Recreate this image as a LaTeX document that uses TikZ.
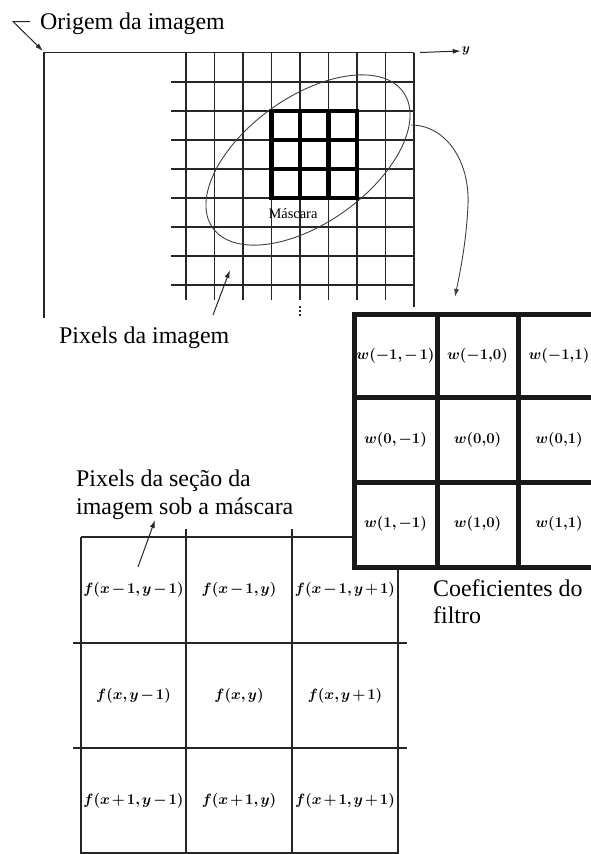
\RequirePackage{fix-cm}
\documentclass[tikz,border=0pt]{standalone}
\usepackage{fontspec}
\setmainfont{Liberation Serif}
\newfontfamily\capfont{Liberation Serif}
\usetikzlibrary{arrows.meta}
\begin{document}
\begin{tikzpicture}[x=1bp,y=-1bp,
  gridline/.style={line width=1.2bp, black!85},
  maskline/.style={line width=4.5bp, black},
  filterline/.style={line width=5bp, black!90},
  lbl/.style={font=\capfont\fontsize{24}{28}\selectfont, inner sep=0pt, anchor=base west},
  cell/.style={font=\fontsize{15}{18}\selectfont\boldmath, inner sep=0pt,
    execute at begin node={\medmuskip=2mu\relax\thinmuskip=2mu\relax}},
  arr/.style={-{Latex[length=8bp,width=5bp]}, line width=1bp, black!85}]
\useasboundingbox (0,0) rectangle (591,854);
\begin{scope}
\clip (0,0) rectangle (591,854);

% image frame and grid
\draw[gridline] (44,318) -- (44,52.5) -- (414,52.5);
\foreach \x in {186,214.5,243,271.5,300,328.5,357,385.5}
  \draw[gridline] (\x,53) -- (\x,300);
\draw[gridline] (414,53) -- (414,307);
\foreach \y in {82,111,140,169,198,227,256,285}
  \draw[gridline] (171,\y) -- (414,\y);
\draw[gridline, dash pattern=on 2bp off 2bp] (300,306) -- (300,318);

% mask
\draw[maskline] (271.5,111) rectangle (357,198);
\draw[maskline] (300,111) -- (300,198) (328.5,111) -- (328.5,198)
                (271.5,140) -- (357,140) (271.5,169) -- (357,169);
\node[font=\capfont\fontsize{14.5}{16}\selectfont, inner sep=0pt, anchor=base] (mascara) at (293,218) {Máscara};

% ellipse
\draw[line width=0.9bp, black!75, rotate around={35.5:(308,160)}]
  (308,160) ellipse [x radius=117bp, y radius=63bp];

% y axis
\coordinate (ystart) at (420,52.5);
\node[font=\fontsize{13}{15}\selectfont\boldmath, inner sep=1pt] (ylab) at (466,51) {$y$};
\draw[arr] (ystart) -- (ylab.west);

% origin label
\node[lbl] (origem) at (40,29) {Origem da imagem};
\coordinate (o1) at (30,21.5);
\coordinate (o2) at (13,21.5);
\coordinate (corner) at (43,51);
\draw[arr] (o1) -- (o2) -- (corner);

% pixels da imagem
\node[lbl] (pixels) at (59,343) {Pixels da imagem};
\coordinate (p1) at (213,315);
\coordinate (p2) at (230,270);
\draw[arr] (p1) -- (p2);

% bottom grid
\foreach \x in {186,292} \draw[gridline] (\x,529) -- (\x,854);
\draw[gridline] (81,537) -- (81,854);
\draw[gridline] (398,567) -- (398,854);
\draw[gridline] (81,537) -- (352,537);
\draw[gridline] (73,643) -- (407,643);
\draw[gridline] (73,748) -- (407,748);
\draw[gridline] (81,853) -- (398,853);

\node[cell] (f11) at (133.5,590) {$f(x-1,y-1)$};
\node[cell] (f12) at (239,590) {$f(x-1,y)$};
\node[cell] (f13) at (345,590) {$f(x-1,y+1)$};
\node[cell] (f21) at (133.5,695.5) {$f(x,y-1)$};
\node[cell] (f22) at (239,695.5) {$f(x,y)$};
\node[cell] (f23) at (345,695.5) {$f(x,y+1)$};
\node[cell] (f31) at (133.5,801) {$f(x+1,y-1)$};
\node[cell] (f32) at (239,801) {$f(x+1,y)$};
\node[cell] (f33) at (345,801) {$f(x+1,y+1)$};

% filter
\fill[white] (354,314) rectangle (600,567);
\draw[filterline] (354,314) rectangle (600,567);
\draw[filterline] (437,314) -- (437,567) (518,314) -- (518,567)
                  (354,397) -- (600,397) (354,482) -- (600,482);
\node[cell] (w11) at (395.5,355.5) {$w(-1{,}-1)$};
\node[cell] (w12) at (477.5,355.5) {$w(-1{,}0)$};
\node[cell] (w13) at (559,355.5) {$w(-1{,}1)$};
\node[cell] (w21) at (395.5,439.5) {$w(0,-1)$};
\node[cell] (w22) at (477.5,439.5) {$w(0{,}0)$};
\node[cell] (w23) at (559,439.5) {$w(0{,}1)$};
\node[cell] (w31) at (395.5,524) {$w(1,-1)$};
\node[cell] (w32) at (477.5,524) {$w(1{,}0)$};
\node[cell] (w33) at (559,524) {$w(1{,}1)$};

% connector ellipse -> filter
\coordinate (ellR) at (411,125);
\coordinate (ftop) at (455,297);
\draw[arr, line width=0.9bp, black!75] (ellR) .. controls (445,125) and (470,160) .. (468,205)
   .. controls (466,245) and (460,272) .. (ftop);

% filter caption
\node[lbl] (coef1) at (433,596) {Coeficientes do};
\node[lbl] (coef2) at (433,623) {filtro};

% section caption
\node[lbl] (secao1) at (76,486) {Pixels da seção da};
\node[lbl] (secao2) at (76,514) {imagem sob a máscara};
\coordinate (s1) at (138,567);
\coordinate (s2) at (155,520);
\draw[arr] (s1) -- (s2);
\end{scope}
\end{tikzpicture}
\end{document}
